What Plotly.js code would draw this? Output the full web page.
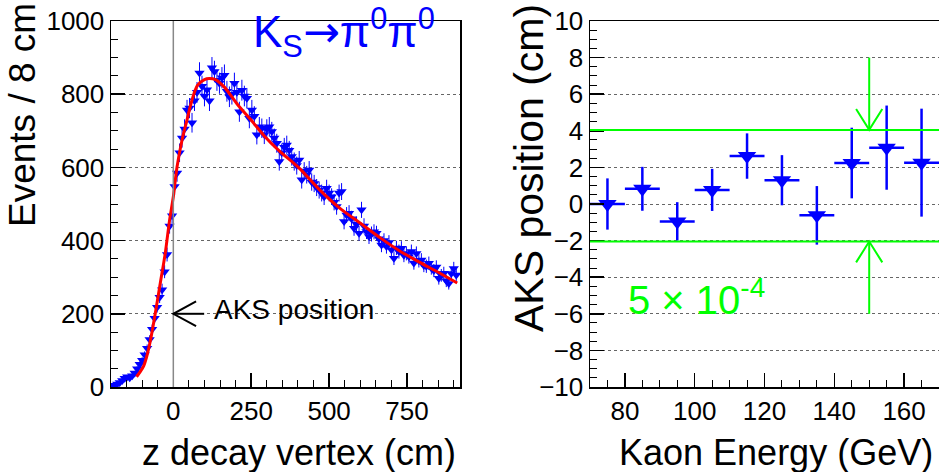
<!DOCTYPE html>
<html>
<head>
<meta charset="utf-8">
<script src="https://cdn.plot.ly/plotly-3.0.1.min.js"></script>
<style>
  html, body { margin: 0; padding: 0; background: #fff; }
  #chart { width: 939px; height: 472px; }
</style>
</head>
<body>
<div id="chart"></div>
<script>
// K_S -> pi0 pi0 decay vertex distribution (8 cm bins) and the fitted curve
const zBinCenters = [
  -196, -188, -180, -172, -164, -156, -148, -140, -132, -124,
  -116, -108, -100, -92, -84, -76, -68, -60, -52, -44,
  -36, -28, -20, -12, -4, 4, 12, 20, 28, 36,
  44, 52, 60, 68, 76, 84, 92, 100, 108, 116,
  124, 132, 140, 148, 156, 164, 172, 180, 188, 196,
  204, 212, 220, 228, 236, 244, 252, 260, 268, 276,
  284, 292, 300, 308, 316, 324, 332, 340, 348, 356,
  364, 372, 380, 388, 396, 404, 412, 420, 428, 436,
  444, 452, 460, 468, 476, 484, 492, 500, 508, 516,
  524, 532, 540, 548, 556, 564, 572, 580, 588, 596,
  604, 612, 620, 628, 636, 644, 652, 660, 668, 676,
  684, 692, 700, 708, 716, 724, 732, 740, 748, 756,
  764, 772, 780, 788, 796, 804, 812, 820, 828, 836,
  844, 852, 860, 868, 876, 884, 892, 900, 908
];
const eventsPerBin = [
  3, 5, 8, 12, 18, 24, 28, 25, 31, 38,
  50, 62, 73, 88, 106, 130, 158, 188, 218, 245,
  266, 315, 362, 440, 468, 548, 585, 640, 680, 705,
  757, 762, 722, 782, 805, 858, 822, 795, 812, 782,
  872, 862, 838, 830, 845, 852, 808, 793, 800, 830,
  805, 752, 811, 795, 789, 734, 757, 740, 689, 711,
  707, 690, 705, 711, 698, 680, 666, 616, 640, 655,
  661, 647, 630, 616, 605, 620, 566, 590, 580, 593,
  560, 556, 545, 538, 530, 520, 543, 530, 520, 505,
  493, 530, 534, 452, 470, 475, 460, 434, 445, 420,
  484, 440, 425, 411, 418, 424, 420, 405, 388, 400,
  384, 395, 375, 352, 380, 370, 379, 360, 365, 356,
  370, 339, 365, 345, 347, 332, 330, 338, 325, 318,
  328, 297, 305, 311, 290, 283, 310, 324, 306
];
const fitZ = [-118, -106, -95, -84, -74, -58, -42, -26, -12, 0, 12, 28, 44, 57, 78, 100,
              115, 135, 163, 206, 249, 292, 340, 404, 468, 532, 596, 660, 724, 788, 853, 911];
const fitEvents = [28, 42, 58, 88, 125, 201, 283, 365, 456, 520, 602, 675, 730, 775, 825, 840,
                   843, 840, 820, 772, 730, 686, 645, 598, 540, 490, 450, 410, 373, 342, 312, 284];

// AKS position versus kaon energy
const kaonEnergy = [75, 85, 95, 105, 115, 125, 135, 145, 155, 165];
const aksPosition = [0.0, 0.83, -0.95, 0.77, 2.62, 1.30, -0.62, 2.24, 3.08, 2.26];
const aksError = [1.4, 1.2, 1.05, 1.15, 1.24, 1.37, 1.6, 1.93, 2.3, 2.95];
const energyHalfBin = 5;
const bandUpper = 4.05;
const bandLower = -2.05;

const W = 939, H = 472;
const FONT = 'Liberation Sans, Arial, Helvetica, sans-serif';
const BLUE = '#0000ff', RED = '#ff0000', GREEN = '#00ff00';
const yDomain = [(H - 387) / H, (H - 21) / H];

function frameAxis(extra) {
  return Object.assign({
    showline: true, linecolor: '#000', linewidth: 1.5, mirror: true,
    ticks: 'inside', ticklen: 14, tickwidth: 1.5, tickcolor: '#000',
    zeroline: false, showgrid: false, fixedrange: true,
    tickfont: { family: FONT, size: 26, color: '#000' }
  }, extra);
}
const dotGrid = { showgrid: true, griddash: 'dot', gridcolor: '#666', gridwidth: 1 };

const traces = [
  {
    x: zBinCenters, y: eventsPerBin, xaxis: 'x', yaxis: 'y',
    type: 'scatter', mode: 'markers',
    marker: { symbol: 'triangle-down', size: 9, color: BLUE },
    error_y: { type: 'sqrt', color: BLUE, thickness: 1, width: 0 },
    hoverinfo: 'skip'
  },
  {
    x: fitZ, y: fitEvents, xaxis: 'x', yaxis: 'y',
    type: 'scatter', mode: 'lines',
    line: { color: RED, width: 3, shape: 'spline' },
    hoverinfo: 'skip'
  },
  {
    x: kaonEnergy, y: aksPosition, xaxis: 'x2', yaxis: 'y2',
    type: 'scatter', mode: 'markers',
    marker: { symbol: 'triangle-down', size: 16, color: BLUE },
    error_y: { type: 'data', array: aksError, color: BLUE, thickness: 2.5, width: 0 },
    error_x: { type: 'constant', value: energyHalfBin, color: BLUE, thickness: 2.5, width: 0 },
    hoverinfo: 'skip'
  }
];

const shapes = [
  // AKS plane at z = 0
  { type: 'line', xref: 'x', yref: 'y domain', x0: 0, x1: 0, y0: 0, y1: 1,
    line: { color: '#888', width: 1.5 } },
  // arrow pointing to the AKS plane
  { type: 'line', xref: 'x', yref: 'y', x0: 0, x1: 99, y0: 200, y1: 200,
    line: { color: '#000', width: 2 } },
  { type: 'path', xref: 'x', yref: 'y', path: 'M 73,234 L 0,200 L 73,166',
    line: { color: '#000', width: 2 } },
  // band limits on the AKS position
  { type: 'line', xref: 'x2 domain', yref: 'y2', x0: 0, x1: 1, y0: bandUpper, y1: bandUpper,
    line: { color: GREEN, width: 2 } },
  { type: 'line', xref: 'x2 domain', yref: 'y2', x0: 0, x1: 1, y0: bandLower, y1: bandLower,
    line: { color: GREEN, width: 2 } },
  { type: 'line', xref: 'x2', yref: 'y2', x0: 150, x1: 150, y0: 8, y1: bandUpper,
    line: { color: GREEN, width: 2 } },
  { type: 'path', xref: 'x2', yref: 'y2',
    path: 'M 146.25,' + (bandUpper + 1.14) + ' L 150,' + bandUpper + ' L 153.75,' + (bandUpper + 1.14),
    line: { color: GREEN, width: 2 } },
  { type: 'line', xref: 'x2', yref: 'y2', x0: 150, x1: 150, y0: -6, y1: bandLower,
    line: { color: GREEN, width: 2 } },
  { type: 'path', xref: 'x2', yref: 'y2',
    path: 'M 146.25,' + (bandLower - 1.14) + ' L 150,' + bandLower + ' L 153.75,' + (bandLower - 1.14),
    line: { color: GREEN, width: 2 } }
];

const annotations = [
  { xref: 'paper', yref: 'paper', x: 458 / W, y: (H - 452) / H, xanchor: 'right', yanchor: 'middle',
    text: 'z decay vertex (cm)', showarrow: false, font: { family: FONT, size: 36, color: '#000' } },
  { xref: 'paper', yref: 'paper', x: 935 / W, y: (H - 452) / H, xanchor: 'right', yanchor: 'middle',
    text: 'Kaon Energy (GeV)', showarrow: false, font: { family: FONT, size: 36, color: '#000' } },
  { xref: 'paper', yref: 'paper', x: 22 / W, y: (H - 1) / H, xanchor: 'center', yanchor: 'top',
    textangle: -90, text: 'Events / 8 cm', showarrow: false, font: { family: FONT, size: 37, color: '#000' } },
  { xref: 'paper', yref: 'paper', x: 529 / W, y: (H - 2) / H, xanchor: 'center', yanchor: 'top',
    textangle: -90, text: 'AKS position (cm)', showarrow: false, font: { family: FONT, size: 41, color: '#000' } },
  { xref: 'x', yref: 'y', x: 250, y: 968, xanchor: 'left', yanchor: 'middle',
    text: 'K<sub>S</sub><span style="font-family:DejaVu Sans">→</span>π<sup>0</sup>π<sup>0</sup>', showarrow: false,
    font: { family: FONT, size: 44, color: BLUE } },
  { xref: 'x', yref: 'y', x: 124, y: 212, xanchor: 'left', yanchor: 'middle',
    text: 'AKS position', showarrow: false, font: { family: FONT, size: 28, color: '#000' } },
  { xref: 'x2', yref: 'y2', x: 80.4, y: -5.1, xanchor: 'left', yanchor: 'middle',
    text: '5 × 10<sup>-4</sup>', showarrow: false, font: { family: FONT, size: 40, color: GREEN } }
];

const layout = {
  width: W, height: H,
  margin: { l: 0, r: 0, t: 0, b: 0 },
  paper_bgcolor: '#fff', plot_bgcolor: '#fff',
  showlegend: false,
  xaxis: frameAxis({ domain: [111 / W, 460 / W], range: [-200, 920], anchor: 'y',
    dtick: 250, tick0: 0,
    minor: { ticks: 'inside', ticklen: 7, dtick: 50, tick0: 0, tickcolor: '#000', tickwidth: 1, showgrid: false } }),
  yaxis: frameAxis(Object.assign({ domain: yDomain, range: [0, 1000], anchor: 'x',
    dtick: 200, tick0: 0,
    minor: { ticks: 'inside', ticklen: 7, dtick: 50, tick0: 0, tickcolor: '#000', tickwidth: 1, showgrid: false } }, dotGrid)),
  xaxis2: frameAxis({ domain: [590 / W, 1], range: [70, 170], anchor: 'y2',
    dtick: 20, tick0: 0,
    minor: { ticks: 'inside', ticklen: 7, dtick: 5, tick0: 0, tickcolor: '#000', tickwidth: 1, showgrid: false } }),
  yaxis2: frameAxis(Object.assign({ domain: yDomain, range: [-10, 10], anchor: 'x2',
    dtick: 2, tick0: 0,
    minor: { ticks: 'inside', ticklen: 7, dtick: 0.5, tick0: 0, tickcolor: '#000', tickwidth: 1, showgrid: false } }, dotGrid)),
  shapes: shapes,
  annotations: annotations
};

Plotly.newPlot('chart', traces, layout, { displayModeBar: false, staticPlot: true });
</script>
</body>
</html>
